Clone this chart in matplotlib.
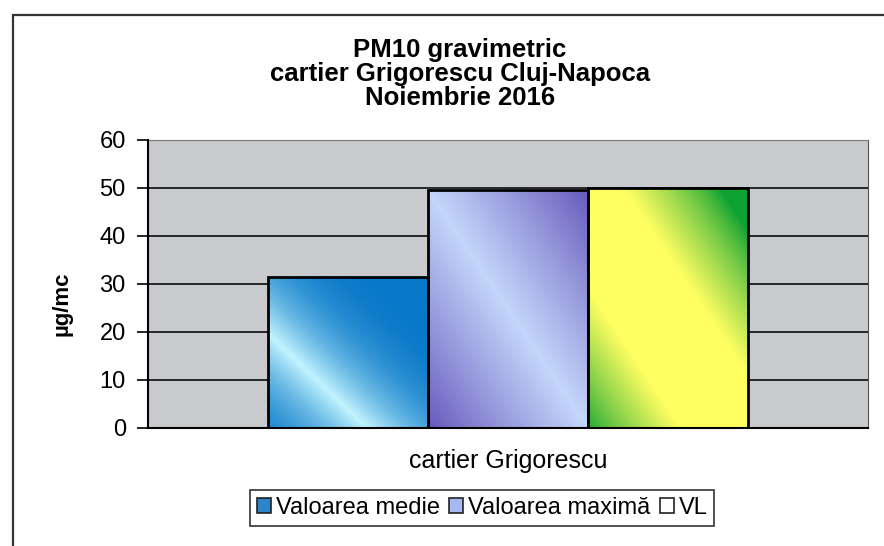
import numpy as np
import matplotlib
matplotlib.use('Agg')
import matplotlib.pyplot as plt
from matplotlib.patches import Patch, Rectangle
from matplotlib.colors import to_rgb

plt.rcParams.update({'font.family': 'Liberation Sans'})

# data
categories = ['Valoarea medie', 'Valoarea maximă', 'VL']
values = [31.5, 49.5, 50]
group_label = 'cartier Grigorescu'
title = 'PM10 gravimetric\ncartier Grigorescu Cluj-Napoca\nNoiembrie 2016'
y_label = 'µg/mc'

# gradient per bar: edge colour, centre colour, band centre, reach, ramp, power
grad_styles = [('#0878c8', '#c2f4ff', 0.31, 0.55, 0.55, 2.4),
               ('#5a48b4', '#c4d6fa', 0.50, 0.55, 0.55, 0.9),
               ('#0ea232', '#ffff62', 0.45, 0.46, 0.30, 0.8)]
legend_colors = ['#2a86c8', '#a8b8f0', '#ffffff']

fig = plt.figure(figsize=(8.84, 5.46), dpi=100)
ax = fig.add_axes([148 / 884, 1 - 428 / 546, 720 / 884, 288 / 546])
ax.set_facecolor('#c8cacd')

# outer chart border (scan shows left and top edges only)
fig.patches.append(Rectangle((13 / 884, -0.1), 1.1, 1.1 - 15 / 546,
                             transform=fig.transFigure, fill=False,
                             edgecolor='#333333', lw=1.6))

x = np.arange(len(values)) - 1.0
ax.set_xlim(-2.25, 2.25)
ax.set_ylim(0, 60)
ax.set_yticks(range(0, 61, 10))
for yy in range(10, 60, 10):
    ax.axhline(yy, color='#1a1a1a', lw=1.3, zorder=1)

bars = ax.bar(x, values, width=1.0, facecolor='none', edgecolor='black',
              lw=2, zorder=4)

# diagonal gradient fill clipped to each bar
n = 200
uu, vv = np.meshgrid(np.linspace(0, 1, n), np.linspace(0, 1, n))
t = (uu + vv) / 2
for bar, (c_edge, c_mid, c, w, s, p) in zip(bars, grad_styles):
    f = np.clip((w - np.abs(t - c)) / s, 0, 1) ** p
    e, m = np.array(to_rgb(c_edge)), np.array(to_rgb(c_mid))
    img = e + (m - e) * f[..., None]
    x0, bw, h = bar.get_x(), bar.get_width(), bar.get_height()
    im = ax.imshow(img, extent=(x0, x0 + bw, 0, h), origin='lower',
                   aspect='auto', zorder=3, interpolation='bilinear')
    im.set_clip_path(bar)

ax.set_xticks([0])
ax.set_xticklabels([group_label], fontsize=18)
ax.tick_params(axis='x', length=0, pad=15)
ax.tick_params(axis='y', direction='out', length=8, width=1.2, labelsize=17, pad=8)
ax.spines['left'].set_linewidth(1.5)
ax.spines['bottom'].set_linewidth(1.5)
ax.spines['top'].set_color('#777777')
ax.spines['right'].set_color('#555555')
ax.spines['left'].set_zorder(5)
ax.spines['bottom'].set_zorder(5)

ax.set_ylabel(y_label, fontsize=16, fontweight='bold')
ax.yaxis.set_label_coords(-0.105, 0.43)
fig.text(460 / 884, 1 - 74 / 546, title, ha='center', va='center', fontsize=18.5,
         fontweight='bold', linespacing=1.0)

handles = [Patch(facecolor=col, edgecolor='#222222', lw=1.2) for col in legend_colors]
leg = fig.legend(handles, categories, loc='center', ncol=3,
                 bbox_to_anchor=(482 / 884, 1 - 508 / 546), fontsize=17,
                 frameon=True, fancybox=False, edgecolor='black',
                 handlelength=0.6, handleheight=0.6, handletextpad=0.2,
                 columnspacing=0.4, borderpad=0.3)
leg.get_frame().set_linewidth(1.2)

fig.savefig('out.png', dpi=100)
